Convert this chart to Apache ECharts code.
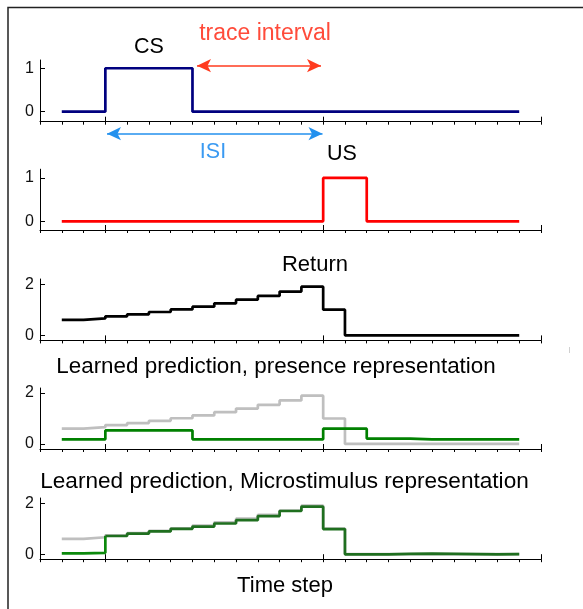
<!DOCTYPE html>
<html>
<head>
<meta charset="utf-8">
<script src="https://cdn.jsdelivr.net/npm/echarts@6/dist/echarts.min.js"></script>
<style>html,body{margin:0;padding:0;background:#fff;}#c{width:583px;height:609px;}</style>
</head>
<body>
<div id="c"></div>
<script>
// ---- data ----
const timeSteps = [-2,-1,0,1,2,3,4,5,6,7,8,9,10,11,12,13,14,15,16,17,18,19];
const csSignal = [0,0,1,1,1,1,0,0,0,0,0,0,0,0,0,0,0,0,0,0,0,0];
const usSignal = [0,0,0,0,0,0,0,0,0,0,0,0,1,1,0,0,0,0,0,0,0,0];
const returnValues = [0.60,0.66,0.74,0.82,0.91,1.01,1.12,1.25,1.39,1.54,1.71,1.90,1.00,0,0,0,0,0,0,0,0,0];
const presencePrediction = [0.18,0.18,0.53,0.53,0.53,0.53,0.18,0.18,0.18,0.18,0.18,0.18,0.60,0.60,0.21,0.21,0.18,0.18,0.18,0.18,0.18,0.18];
const microPrediction = [0.03,0.05,0.71,0.80,0.89,0.99,1.08,1.20,1.33,1.49,1.69,1.86,0.98,-0.01,-0.01,0.01,0.02,0.01,0.00,-0.01,0.00,0.00];
const xMajorTicks = [0,10,20];
const yTicksStimulus = [0,1];
const yTicksReturn = [0,2];
const titles = ['CS','US','Return','Learned prediction, presence representation','Learned prediction, Microstimulus representation'];
const xAxisName = 'Time step';

function pairs(vals, from, to){
  const a = timeSteps.map((t,i)=>[t, vals[i]]);
  return (from===undefined) ? a : a.slice(from, to);
}

const FONT = '"Liberation Sans", Arial, Helvetica, sans-serif';
const panels = [
  {top:60, height:61.7, min:-0.23, max:1.19, ticks:yTicksStimulus},
  {top:169.2, height:60.8, min:-0.2, max:1.2, ticks:yTicksStimulus},
  {top:279, height:61.4, min:-0.2, max:2.2, ticks:yTicksReturn},
  {top:388, height:61, min:-0.2, max:2.2, ticks:yTicksReturn},
  {top:498, height:61.2, min:-0.2, max:2.2, ticks:yTicksReturn}
];

const grid = [], xAxis = [], yAxis = [];
panels.forEach((p,i)=>{
  grid.push({left:40, right:42, top:p.top, height:p.height, containLabel:false});
  xAxis.push({type:'value', gridIndex:i, min:-3, max:20, interval:1, position:'bottom',
    axisLine:{show:true, onZero:false, lineStyle:{color:'#000', width:1}},
    axisTick:{show:true, inside:false, length:3, lineStyle:{color:'#000', width:1}},
    axisLabel:{show:false}, splitLine:{show:false}});
  xAxis.push({type:'value', gridIndex:i, min:-3, max:20, position:'bottom',
    axisLine:{show:false, onZero:false},
    axisTick:{show:true, inside:true, length:5, customValues:xMajorTicks, lineStyle:{color:'#000', width:1}},
    axisLabel:{show:false, customValues:xMajorTicks}, splitLine:{show:false}});
  yAxis.push({type:'value', gridIndex:i, min:p.min, max:p.max,
    axisLine:{show:true, onZero:false, lineStyle:{color:'#000', width:1}},
    axisTick:{show:true, inside:true, length:5, customValues:p.ticks, lineStyle:{color:'#000', width:1}},
    axisLabel:{show:true, customValues:p.ticks, color:'#111', fontSize:16, fontFamily:FONT, margin:6},
    splitLine:{show:false}});
});

function stepSeries(idx, data, color, z){
  return {type:'line', step:'end', xAxisIndex:idx*2, yAxisIndex:idx, data:data,
    showSymbol:false, symbol:'none', z:z||2, silent:true, animation:false,
    lineStyle:{color:color, width:2.7}};
}

const GRAY = '#bfbfbf';
const series = [
  Object.assign(stepSeries(0, pairs(csSignal), '#00007f'), {
    markLine:{silent:true, symbol:['arrow','arrow'], symbolSize:[10,14], animation:false,
      label:{show:false},
      data:[
        [{x:197, y:65.7, lineStyle:{color:'#ff3b1f', width:1.6, type:'solid'}, itemStyle:{color:'#ff3b1f'}},{x:321, y:65.7}],
        [{x:107, y:133.7, lineStyle:{color:'#2391ee', width:1.6, type:'solid'}, itemStyle:{color:'#2391ee'}},{x:322.5, y:133.7}]
      ]}
  }),
  stepSeries(1, pairs(usSignal), '#ff0000'),
  stepSeries(2, pairs(returnValues), '#000000'),
  stepSeries(3, pairs(returnValues), GRAY, 2),
  stepSeries(3, pairs(presencePrediction), '#008000', 3),
  stepSeries(4, pairs(returnValues), GRAY, 2),
  stepSeries(4, pairs(microPrediction, 0, 3), '#0b890b', 3),
  stepSeries(4, pairs(microPrediction, 2), '#1f6f1f', 4)
];

const textItems = [
  {text:'trace interval', x:265, y:33.5, color:'#ff4b3a', size:23},
  {text:titles[0], x:149, y:47, color:'#000', size:21.5},
  {text:'ISI', x:213, y:152, color:'#3a9af2', size:21.5},
  {text:titles[1], x:342, y:154.5, color:'#000', size:21.5},
  {text:titles[2], x:315, y:265, color:'#000', size:22},
  {text:titles[3], x:276, y:367, color:'#000', size:22.4},
  {text:titles[4], x:284.5, y:482, color:'#000', size:22.6},
  {text:xAxisName, x:285, y:586, color:'#000', size:22}
];

const graphic = textItems.map(t=>({type:'text', x:t.x, y:t.y, silent:true,
  style:{text:t.text, fill:t.color, font:t.size+'px '+FONT, align:'center', verticalAlign:'middle'}}));
graphic.push({type:'polyline', silent:true, shape:{points:[[8,610],[8,7.5],[584,7.5]]},
  style:{stroke:'#222', lineWidth:1.5, fill:null}});
graphic.push({type:'line', silent:true, shape:{x1:569.5,y1:347,x2:569.5,y2:353}, style:{stroke:'#d0d0d0', lineWidth:1}});

const chart = echarts.init(document.getElementById('c'), null, {renderer:'canvas'});
chart.setOption({
  animation:false,
  backgroundColor:'#fff',
  grid, xAxis, yAxis, series, graphic
});
</script>
</body>
</html>
